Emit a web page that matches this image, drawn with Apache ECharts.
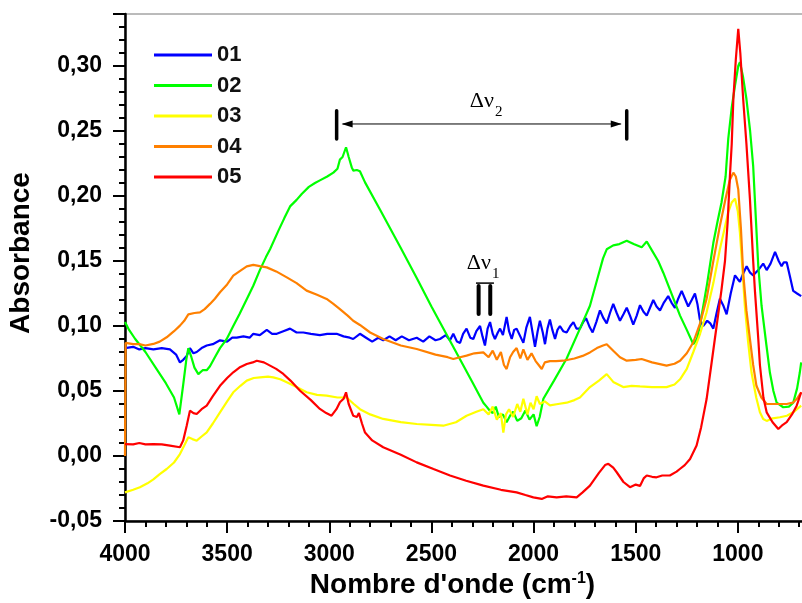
<!DOCTYPE html>
<html><head><meta charset="utf-8">
<script src="https://cdn.jsdelivr.net/npm/echarts@6/dist/echarts.min.js"></script>
<style>html,body{margin:0;padding:0;background:#fff}#c{width:802px;height:603px}</style>
</head><body><div id="c"></div>
<script>
const seriesNames = ['01', '02', '03', '04', '05'];
const seriesColors = ['#0000FF', '#00FF00', '#FFFF00', '#FF8000', '#FF0000'];

// [wavenumber (cm-1), absorbance]
const s01 = [[4000,0.083],[3960,0.084],[3930,0.082],[3900,0.083],[3861,0.082],[3820,0.083],[3780,0.082],[3750,0.078],[3731,0.072],[3715,0.074],[3698,0.077],[3682,0.083],[3665,0.079],[3649,0.080],[3625,0.083],[3600,0.085],[3570,0.086],[3535,0.089],[3500,0.088],[3475,0.091],[3453,0.091],[3420,0.092],[3390,0.091],[3372,0.094],[3340,0.093],[3306,0.097],[3280,0.094],[3257,0.094],[3225,0.096],[3192,0.098],[3160,0.095],[3127,0.095],[3090,0.094],[3046,0.093],[3010,0.094],[2964,0.094],[2930,0.092],[2900,0.091],[2883,0.090],[2850,0.094],[2820,0.091],[2790,0.088],[2760,0.091],[2736,0.089],[2705,0.092],[2675,0.089],[2645,0.092],[2610,0.089],[2572,0.091],[2540,0.088],[2510,0.092],[2480,0.089],[2458,0.090],[2430,0.093],[2409,0.089],[2393,0.094],[2375,0.088],[2360,0.087],[2345,0.094],[2328,0.098],[2310,0.091],[2295,0.090],[2280,0.096],[2262,0.100],[2250,0.092],[2238,0.085],[2225,0.098],[2213,0.103],[2200,0.094],[2189,0.090],[2175,0.095],[2164,0.098],[2150,0.093],[2132,0.107],[2120,0.096],[2107,0.090],[2095,0.097],[2083,0.098],[2065,0.092],[2050,0.087],[2035,0.099],[2018,0.107],[2005,0.095],[1993,0.084],[1980,0.096],[1969,0.104],[1955,0.095],[1944,0.086],[1932,0.098],[1920,0.105],[1908,0.097],[1895,0.090],[1883,0.097],[1871,0.100],[1855,0.096],[1838,0.095],[1820,0.100],[1805,0.103],[1790,0.098],[1773,0.098],[1757,0.103],[1743,0.106],[1725,0.099],[1711,0.095],[1693,0.103],[1675,0.112],[1658,0.106],[1642,0.102],[1626,0.110],[1610,0.117],[1593,0.110],[1577,0.104],[1560,0.109],[1544,0.114],[1528,0.108],[1512,0.101],[1495,0.108],[1479,0.116],[1462,0.111],[1446,0.108],[1430,0.114],[1414,0.120],[1398,0.115],[1381,0.112],[1362,0.118],[1341,0.123],[1325,0.118],[1308,0.114],[1292,0.121],[1275,0.127],[1259,0.121],[1243,0.115],[1226,0.120],[1210,0.125],[1198,0.117],[1186,0.105],[1170,0.100],[1150,0.104],[1135,0.102],[1120,0.098],[1104,0.110],[1088,0.121],[1072,0.116],[1055,0.109],[1035,0.125],[1014,0.139],[1000,0.136],[990,0.134],[975,0.140],[957,0.146],[940,0.141],[925,0.139],[900,0.143],[876,0.148],[859,0.143],[840,0.148],[818,0.157],[800,0.150],[786,0.146],[775,0.149],[761,0.149],[745,0.138],[729,0.127],[710,0.125],[690,0.123]];

const s02 = [[4000,0.103],[3980,0.097],[3950,0.090],[3900,0.080],[3850,0.068],[3800,0.056],[3760,0.045],[3734,0.032],[3715,0.055],[3700,0.074],[3690,0.083],[3675,0.076],[3660,0.068],[3641,0.063],[3620,0.066],[3600,0.066],[3584,0.069],[3560,0.076],[3535,0.083],[3502,0.090],[3470,0.100],[3440,0.109],[3400,0.122],[3372,0.131],[3340,0.143],[3310,0.153],[3290,0.159],[3250,0.173],[3220,0.183],[3192,0.192],[3160,0.197],[3135,0.2015],[3100,0.207],[3070,0.210],[3046,0.212],[3010,0.215],[2980,0.218],[2960,0.221],[2948,0.228],[2935,0.230],[2918,0.2375],[2905,0.230],[2890,0.222],[2882,0.2195],[2865,0.220],[2850,0.219],[2825,0.2105],[2750,0.189],[2650,0.160],[2572,0.137],[2500,0.115],[2400,0.086],[2300,0.057],[2246,0.041],[2230,0.038],[2215,0.035],[2200,0.033],[2185,0.038],[2170,0.030],[2150,0.032],[2132,0.026],[2115,0.031],[2100,0.034],[2080,0.027],[2060,0.029],[2040,0.035],[2020,0.028],[2000,0.032],[1985,0.023],[1970,0.030],[1952,0.044],[1900,0.058],[1838,0.075],[1773,0.098],[1724,0.1156],[1690,0.135],[1660,0.152],[1642,0.159],[1610,0.162],[1580,0.163],[1544,0.1656],[1510,0.163],[1471,0.1605],[1446,0.165],[1420,0.158],[1390,0.150],[1365,0.141],[1330,0.127],[1283,0.108],[1250,0.097],[1218,0.086],[1200,0.090],[1186,0.100],[1150,0.133],[1120,0.164],[1100,0.180],[1080,0.195],[1060,0.215],[1047,0.244],[1030,0.268],[1014,0.285],[998,0.300],[990,0.303],[975,0.292],[958,0.2746],[940,0.250],[925,0.223],[900,0.146],[884,0.1156],[860,0.085],[843,0.064],[826,0.050],[810,0.041],[778,0.0375],[750,0.038],[729,0.041],[710,0.052],[697,0.064],[690,0.072]];

const s03 = [[4000,-0.028],[3960,-0.026],[3927,-0.024],[3890,-0.021],[3861,-0.018],[3830,-0.014],[3796,-0.010],[3760,-0.005],[3731,0.0015],[3710,0.008],[3690,0.0144],[3670,0.013],[3649,0.0118],[3625,0.015],[3600,0.0182],[3570,0.025],[3535,0.0336],[3500,0.042],[3470,0.049],[3435,0.054],[3404,0.058],[3370,0.060],[3339,0.0605],[3300,0.061],[3274,0.0605],[3240,0.059],[3208,0.0567],[3160,0.053],[3111,0.049],[3060,0.047],[3013,0.0464],[2960,0.045],[2915,0.045],[2880,0.040],[2850,0.036],[2800,0.032],[2736,0.0285],[2650,0.026],[2572,0.0246],[2500,0.024],[2442,0.0233],[2380,0.026],[2328,0.031],[2280,0.034],[2246,0.036],[2220,0.032],[2200,0.038],[2180,0.028],[2160,0.033],[2148,0.018],[2135,0.032],[2120,0.036],[2100,0.030],[2080,0.040],[2065,0.034],[2050,0.044],[2030,0.032],[2015,0.041],[2000,0.036],[1985,0.046],[1969,0.040],[1945,0.042],[1920,0.039],[1880,0.040],[1838,0.041],[1800,0.043],[1773,0.045],[1724,0.053],[1680,0.058],[1642,0.063],[1610,0.057],[1561,0.053],[1520,0.054],[1479,0.0535],[1420,0.053],[1349,0.053],[1310,0.055],[1283,0.059],[1250,0.067],[1218,0.080],[1185,0.094],[1153,0.1105],[1120,0.133],[1088,0.159],[1065,0.175],[1047,0.1875],[1030,0.195],[1014,0.198],[1000,0.188],[990,0.172],[978,0.145],[966,0.1156],[950,0.088],[933,0.064],[910,0.045],[892,0.0336],[876,0.0285],[859,0.027],[830,0.029],[794,0.0298],[760,0.031],[729,0.0336],[690,0.0387]];

const s04 = [[4000,0.000],[3997,0.087],[3960,0.086],[3930,0.086],[3900,0.085],[3861,0.0862],[3830,0.088],[3796,0.0913],[3760,0.096],[3731,0.1003],[3710,0.104],[3690,0.109],[3660,0.110],[3633,0.1105],[3610,0.113],[3584,0.117],[3560,0.121],[3535,0.126],[3500,0.132],[3470,0.1387],[3440,0.142],[3404,0.1459],[3372,0.147],[3340,0.146],[3306,0.1451],[3260,0.142],[3208,0.1374],[3160,0.133],[3111,0.1272],[3060,0.124],[3013,0.1208],[2980,0.117],[2948,0.113],[2910,0.108],[2883,0.104],[2850,0.1008],[2800,0.095],[2736,0.090],[2650,0.085],[2572,0.0823],[2480,0.078],[2420,0.076],[2393,0.0746],[2360,0.076],[2328,0.0772],[2290,0.079],[2246,0.0797],[2220,0.076],[2200,0.081],[2180,0.074],[2160,0.080],[2145,0.070],[2132,0.0669],[2115,0.076],[2100,0.080],[2083,0.083],[2065,0.075],[2050,0.082],[2030,0.074],[2010,0.079],[1990,0.073],[1975,0.070],[1960,0.0669],[1945,0.072],[1920,0.073],[1890,0.073],[1855,0.0733],[1800,0.075],[1760,0.077],[1724,0.0797],[1690,0.083],[1660,0.085],[1642,0.086],[1610,0.081],[1577,0.076],[1544,0.0733],[1500,0.074],[1471,0.0746],[1420,0.072],[1349,0.0695],[1310,0.071],[1283,0.0733],[1250,0.079],[1218,0.0875],[1185,0.102],[1153,0.121],[1120,0.150],[1088,0.177],[1060,0.198],[1040,0.212],[1022,0.218],[1010,0.215],[998,0.205],[985,0.175],[974,0.141],[958,0.112],[941,0.090],[925,0.070],[909,0.054],[885,0.045],[859,0.040],[800,0.040],[761,0.040],[730,0.041],[712,0.0438],[690,0.049]];

const s05 = [[4000,0.0092],[3960,0.009],[3930,0.010],[3900,0.009],[3861,0.0092],[3820,0.009],[3780,0.008],[3731,0.0067],[3715,0.012],[3698,0.0233],[3682,0.0349],[3665,0.033],[3649,0.0323],[3625,0.036],[3600,0.0387],[3570,0.046],[3535,0.054],[3500,0.060],[3470,0.0644],[3440,0.068],[3404,0.0708],[3375,0.072],[3355,0.0733],[3320,0.072],[3290,0.0695],[3260,0.067],[3225,0.0631],[3190,0.058],[3143,0.0502],[3090,0.043],[3046,0.0362],[3015,0.033],[2989,0.031],[2965,0.036],[2948,0.0413],[2930,0.044],[2918,0.049],[2905,0.040],[2883,0.031],[2865,0.030],[2855,0.033],[2840,0.025],[2825,0.018],[2790,0.012],[2736,0.0067],[2650,0.001],[2572,-0.0049],[2490,-0.010],[2409,-0.015],[2330,-0.019],[2246,-0.0228],[2160,-0.026],[2083,-0.028],[2040,-0.030],[2001,-0.0318],[1960,-0.033],[1930,-0.031],[1887,-0.0318],[1840,-0.031],[1789,-0.0318],[1760,-0.028],[1724,-0.0228],[1680,-0.013],[1650,-0.007],[1634,-0.006],[1610,-0.009],[1593,-0.0125],[1560,-0.020],[1528,-0.024],[1500,-0.022],[1479,-0.023],[1460,-0.017],[1446,-0.015],[1420,-0.016],[1398,-0.0164],[1370,-0.015],[1333,-0.015],[1300,-0.012],[1284,-0.010],[1260,-0.007],[1234,-0.0023],[1202,0.008],[1180,0.022],[1153,0.0438],[1130,0.070],[1104,0.100],[1080,0.128],[1063,0.150],[1050,0.180],[1039,0.215],[1030,0.240],[1022,0.2746],[1010,0.305],[998,0.3285],[988,0.310],[974,0.2746],[958,0.240],[941,0.198],[925,0.150],[916,0.126],[900,0.090],[892,0.070],[875,0.045],[859,0.0336],[830,0.026],[802,0.0208],[780,0.024],[761,0.026],[735,0.032],[712,0.0387],[690,0.049]];

const seriesData = [s01, s02, s03, s04, s05];

// annotation anchors, in data units [wavenumber, absorbance]
const dv2Ends = [2964, 1544];
const dv2Level = 0.2554;
const dv2BarSpan = [0.2438, 0.2656];
const dv2Label = [2238, 0.273];
const dv1Bars = [2269, 2212];
const dv1BarSpan = [0.1092, 0.1308];
const dv1Over = [2282, 2194, 0.1330];
const dv1Label = [2253, 0.1485];

const xTitle = "Nombre d'onde (cm{sup|-1})";
const yTitle = 'Absorbance';

const FONT = '"Liberation Sans", Arial, Helvetica, sans-serif';
const SERIF = '"Liberation Serif", "DejaVu Serif", "Times New Roman", serif';

const chart = echarts.init(document.getElementById('c'), null, {renderer: 'canvas'});

const option = {
  animation: false,
  backgroundColor: '#ffffff',
  grid: {left: 125, right: -38, top: 14, bottom: 82, show: true, borderColor: '#777', borderWidth: 1, backgroundColor: 'transparent', containLabel: false, outerBoundsMode: 'none'},
  legend: {
    orient: 'vertical', left: 154, top: 44, padding: 0,
    itemWidth: 58, itemHeight: 3, itemGap: 8.5, icon: 'rect',
    textStyle: {fontSize: 22, fontWeight: 'bold', color: '#111', fontFamily: FONT, lineHeight: 22},
    data: seriesNames
  },
  xAxis: {
    type: 'value', inverse: true, min: 500, max: 4000, interval: 500,
    name: xTitle, nameLocation: 'middle', nameGap: 48,
    nameTextStyle: {fontSize: 28, fontWeight: 'bold', color: '#000', fontFamily: FONT, padding: [0, 60, 0, 0],
      rich: {sup: {fontSize: 16, fontWeight: 'bold', color: '#000', fontFamily: FONT, verticalAlign: 'top', lineHeight: 16}}},
    axisLine: {show: true, onZero: false, lineStyle: {color: '#000', width: 2.5}},
    axisTick: {show: true, inside: false, length: 12, lineStyle: {color: '#000', width: 2}},
    minorTick: {show: true, splitNumber: 5, length: 6, lineStyle: {color: '#000', width: 2}},
    axisLabel: {fontSize: 23, fontWeight: 'bold', color: '#000', fontFamily: FONT, margin: 22,
      formatter: v => (v >= 1000 && Math.abs(v % 500) < 1e-6 ? String(v) : '')},
    splitLine: {show: false}, minorSplitLine: {show: false}
  },
  yAxis: {
    type: 'value', min: -0.05, max: 0.34, interval: 0.05,
    name: yTitle, nameLocation: 'middle', nameGap: 90, nameRotate: 90,
    nameTextStyle: {fontSize: 28, fontWeight: 'bold', color: '#000', fontFamily: FONT, padding: [0, 0, 0, 29]},
    axisLine: {show: true, onZero: false, lineStyle: {color: '#000', width: 2.5}},
    axisTick: {show: true, inside: false, length: 12, lineStyle: {color: '#000', width: 2}},
    minorTick: {show: true, splitNumber: 5, length: 6, lineStyle: {color: '#000', width: 2}},
    axisLabel: {fontSize: 23, fontWeight: 'bold', color: '#000', fontFamily: FONT, margin: 23,
      formatter: v => {
        const k = v / 0.05;
        if (Math.abs(k - Math.round(k)) > 1e-6) return '';
        return (Math.round(k) * 0.05).toFixed(2).replace('.', ',');
      }},
    splitLine: {show: false}, minorSplitLine: {show: false}
  },
  series: seriesNames.map((n, i) => ({
    name: n, type: 'line', data: seriesData[i], showSymbol: false, symbol: 'none',
    color: seriesColors[i], lineStyle: {color: seriesColors[i], width: 2.2}, z: 2 + i, clip: true
  }))
};
chart.setOption(option);

function P(w, v) { return chart.convertToPixel({gridIndex: 0}, [w, v]); }

const g = [];
// Δν2 bracket
const a = P(dv2Ends[0], dv2Level), b = P(dv2Ends[1], dv2Level);
dv2Ends.forEach(w => {
  const t = P(w, dv2BarSpan[1]), bt = P(w, dv2BarSpan[0]);
  g.push({type: 'line', shape: {x1: t[0], y1: t[1], x2: bt[0], y2: bt[1]}, style: {stroke: '#000', lineWidth: 3.5, lineCap: 'round'}, z: 100});
});
g.push({type: 'line', shape: {x1: a[0] + 6, y1: a[1], x2: b[0] - 6, y2: b[1]}, style: {stroke: '#000', lineWidth: 1}, z: 100});
g.push({type: 'polygon', shape: {points: [[a[0] + 5, a[1]], [a[0] + 16, a[1] - 3.5], [a[0] + 16, a[1] + 3.5]]}, style: {fill: '#000'}, z: 100});
g.push({type: 'polygon', shape: {points: [[b[0] - 5, b[1]], [b[0] - 16, b[1] - 3.5], [b[0] - 16, b[1] + 3.5]]}, style: {fill: '#000'}, z: 100});
const l2 = P(dv2Label[0], dv2Label[1]);
g.push({type: 'text', x: l2[0] + 9, y: l2[1], style: {text: 'Δν', font: '22px ' + SERIF, fill: '#000', textAlign: 'right', textVerticalAlign: 'middle'}, z: 100});
g.push({type: 'text', x: l2[0] + 10, y: l2[1] + 11, style: {text: '2', font: '15px ' + SERIF, fill: '#000', textAlign: 'left', textVerticalAlign: 'middle'}, z: 100});
// Δν1 marker
dv1Bars.forEach(w => {
  const t = P(w, dv1BarSpan[1]), bt = P(w, dv1BarSpan[0]);
  g.push({type: 'line', shape: {x1: t[0], y1: t[1], x2: bt[0], y2: bt[1]}, style: {stroke: '#000', lineWidth: 4, lineCap: 'round'}, z: 100});
});
const o1 = P(dv1Over[0], dv1Over[2]), o2 = P(dv1Over[1], dv1Over[2]);
g.push({type: 'line', shape: {x1: o1[0], y1: o1[1], x2: o2[0], y2: o2[1]}, style: {stroke: '#000', lineWidth: 1.5}, z: 100});
const l1 = P(dv1Label[0], dv1Label[1]);
g.push({type: 'text', x: l1[0] + 9, y: l1[1], style: {text: 'Δν', font: '22px ' + SERIF, fill: '#000', textAlign: 'right', textVerticalAlign: 'middle'}, z: 100});
g.push({type: 'text', x: l1[0] + 10, y: l1[1] + 11, style: {text: '1', font: '15px ' + SERIF, fill: '#000', textAlign: 'left', textVerticalAlign: 'middle'}, z: 100});

chart.setOption({graphic: g});
</script>
</body></html>
